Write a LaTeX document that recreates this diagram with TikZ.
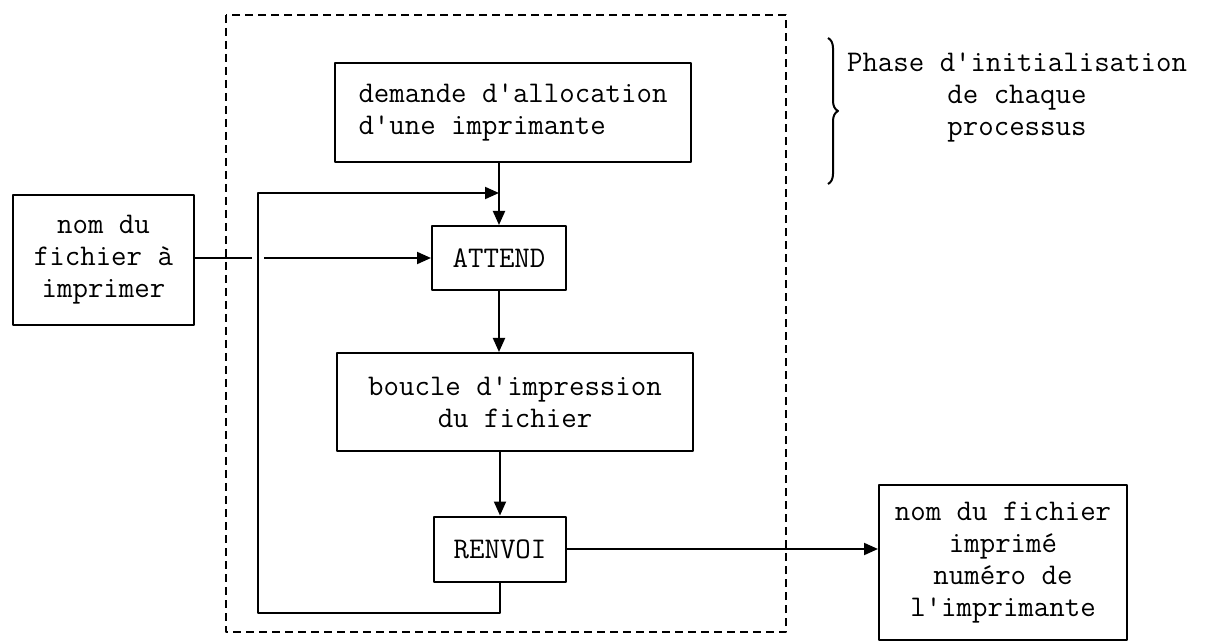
\documentclass[tikz,border=0pt]{standalone}
\usetikzlibrary{arrows.meta,decorations.pathreplacing}
\begin{document}
\begin{tikzpicture}[x=0.5pt,y=-0.5pt,line join=round,line width=1pt,>={Triangle[length=7pt,width=6pt]}]
\tikzset{boite/.style={draw,inner sep=2pt,align=center,font=\fontsize{15}{16}\selectfont\ttfamily},
	texte/.style={align=center,font=\fontsize{15}{16}\selectfont\ttfamily}}
\useasboundingbox (0,0) rectangle (1223,642);
\draw[dash pattern=on 4pt off 2.5pt] (226,15) rectangle (786,632);
\node[boite,minimum width=178pt,minimum height=49.5pt,align=left] (demande) at (513,113) {demande d'allocation\\d'une imprimante};
\node[boite,minimum width=67pt,minimum height=32pt] (attend) at (499,258) {ATTEND};
\node[boite,minimum width=178pt,minimum height=49pt] (boucle) at (515,402) {boucle d'impression\\du fichier};
\node[boite,minimum width=66pt,minimum height=32.5pt] (renvoi) at (500,549) {RENVOI};
\node[boite,minimum width=90.5pt,minimum height=65pt] (nom) at (103.5,260) {nom du\\fichier à\\imprimer};
\node[boite,minimum width=124pt,minimum height=77.5pt] (sortie) at (1003,562.5) {nom du fichier\\imprimé\\numéro de\\l'imprimante};
\node[texte] (phase) at (1017,98) {Phase d'initialisation\\de chaque\\processus};
\draw[decorate,decoration={brace,amplitude=5pt}] (828,38) -- (828,184);
\coordinate (coinbas) at (258,613);
\coordinate (coinhaut) at (258,193);
\coordinate (jonction) at (attend.north |- coinhaut);
\draw[->] (nom.east |- attend.west) -- (attend.west);
\draw[white,line width=6pt] (coinbas) -- (coinhaut);
\draw[->] (renvoi.south) |- (coinbas) |- (jonction);
\draw[->] (demande.south -| attend.north) -- (attend.north);
\draw[->] (attend.south) -- (attend.south |- boucle.north);
\draw[->] (boucle.south -| renvoi.north) -- (renvoi.north);
\draw[->] (renvoi.east) -- (renvoi.east -| sortie.west);
\end{tikzpicture}
\end{document}
